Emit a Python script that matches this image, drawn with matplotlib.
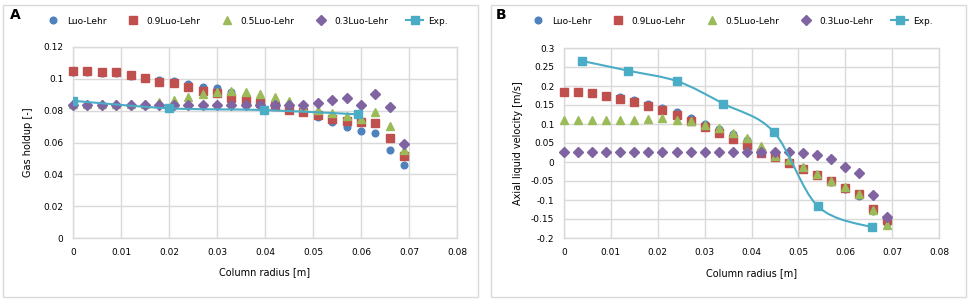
import numpy as np
import matplotlib
matplotlib.use('Agg')
import matplotlib.pyplot as plt
from matplotlib.path import Path
from matplotlib.patches import PathPatch, Rectangle

# radial positions of the simulation points [m]
radius = [0.000, 0.003, 0.006, 0.009, 0.012, 0.015, 0.018, 0.021, 0.024, 0.027, 0.030, 0.033,
          0.036, 0.039, 0.042, 0.045, 0.048, 0.051, 0.054, 0.057, 0.060, 0.063, 0.066, 0.069]

# A: gas holdup [-]
holdup_luo = [0.1045, 0.1045, 0.1035, 0.1035, 0.1020, 0.1005, 0.0990, 0.0985, 0.0967, 0.0950, 0.0940, 0.0920,
              0.0890, 0.0865, 0.0840, 0.0815, 0.0790, 0.0758, 0.0727, 0.0700, 0.0672, 0.0657, 0.0552, 0.0456]
holdup_09 = [0.1051, 0.1050, 0.1045, 0.1040, 0.1022, 0.1007, 0.0982, 0.0972, 0.0946, 0.0925, 0.0909, 0.0881,
             0.0867, 0.0846, 0.0829, 0.0804, 0.0789, 0.0772, 0.0747, 0.0737, 0.0727, 0.0724, 0.0630, 0.0515]
holdup_05 = [0.0845, 0.0845, 0.0845, 0.0845, 0.0845, 0.0845, 0.0855, 0.0870, 0.0884, 0.0905, 0.0917, 0.0925,
             0.0920, 0.0902, 0.0887, 0.0860, 0.0825, 0.0804, 0.0783, 0.0768, 0.0747, 0.0793, 0.0703, 0.0550]
holdup_03 = [0.0838, 0.0838, 0.0838, 0.0838, 0.0838, 0.0838, 0.0838, 0.0838, 0.0838, 0.0838, 0.0838, 0.0838,
             0.0838, 0.0838, 0.0835, 0.0835, 0.0835, 0.0846, 0.0867, 0.0881, 0.0835, 0.0902, 0.0820, 0.0592]
exp_radius_a = [0.0, 0.0199, 0.0398, 0.0593]
exp_holdup = [0.0862, 0.0815, 0.0804, 0.0777]

# B: axial liquid velocity [m/s]
vel_luo = [0.185, 0.185, 0.181, 0.1745, 0.172, 0.162, 0.152, 0.143, 0.131, 0.116, 0.100, 0.088,
           0.075, 0.058, 0.032, 0.016, 0.001, -0.015, -0.033, -0.053, -0.072, -0.090, -0.130, -0.160]
vel_09 = [0.185, 0.185, 0.181, 0.1745, 0.166, 0.157, 0.148, 0.137, 0.124, 0.109, 0.091, 0.0755,
          0.060, 0.046, 0.025, 0.014, -0.002, -0.018, -0.034, -0.051, -0.069, -0.085, -0.124, -0.152]
vel_05 = [0.1095, 0.1095, 0.1095, 0.1095, 0.1095, 0.1095, 0.113, 0.115, 0.1105, 0.108, 0.098, 0.089,
          0.077, 0.063, 0.043, 0.016, 0.005, -0.013, -0.032, -0.050, -0.066, -0.085, -0.127, -0.165]
vel_03 = [0.027, 0.027, 0.027, 0.027, 0.027, 0.027, 0.027, 0.027, 0.027, 0.027, 0.027, 0.027,
          0.027, 0.027, 0.027, 0.0255, 0.027, 0.023, 0.018, 0.008, -0.014, -0.028, -0.088, -0.146]
exp_radius_b = [0.0039, 0.0137, 0.0242, 0.0340, 0.0447, 0.0541, 0.0656]
exp_vel = [0.2658, 0.2403, 0.2123, 0.1534, 0.0798, -0.1158, -0.1719]

labels = ['Luo-Lehr', '0.9Luo-Lehr', '0.5Luo-Lehr', '0.3Luo-Lehr', 'Exp.']
colors = ['#4F81BD', '#C0504D', '#9BBB59', '#8064A2', '#4BACC6']
markers = ['o', 's', '^', 'D', 's']
msizes = [4.8, 5.8, 6.0, 4.6, 5.6]
grid_col = '#D9D9D9'


def smooth_path(x, y):
    # Excel-style smoothed line: cubic Bezier through the points
    p = np.column_stack([x, y])
    n = len(p)
    verts = [p[0]]
    codes = [Path.MOVETO]
    for i in range(n - 1):
        p0 = p[max(i - 1, 0)]
        p1 = p[i]
        p2 = p[i + 1]
        p3 = p[min(i + 2, n - 1)]
        c1 = p1 + (p2 - p0) / 6.0
        c2 = p2 - (p3 - p1) / 6.0
        verts += [c1, c2, p2]
        codes += [Path.CURVE4] * 3
    return Path(verts, codes)


def draw_panel(ax, series, ex, ey):
    for k, ys in enumerate(series):
        ax.plot(radius, ys, linestyle='none', marker=markers[k], ms=msizes[k],
                color=colors[k], mec=colors[k], label=labels[k], zorder=3 + k, clip_on=False)
    ax.add_patch(PathPatch(smooth_path(ex, ey), fill=False, edgecolor=colors[4], lw=1.5, zorder=8))
    ax.plot(ex, ey, linestyle='none', marker='s', ms=msizes[4], color=colors[4], zorder=9)
    ax.plot([], [], '-s', color=colors[4], lw=1.5, ms=msizes[4], label=labels[4])
    ax.set_xlim(0, 0.08)
    ax.set_xticks(np.arange(0, 0.0801, 0.01))
    ax.set_xticklabels(['0', '0.01', '0.02', '0.03', '0.04', '0.05', '0.06', '0.07', '0.08'])
    ax.grid(True, color=grid_col, lw=1)
    ax.set_axisbelow(True)
    for s in ax.spines.values():
        s.set_color(grid_col)
        s.set_linewidth(1)
    ax.tick_params(length=0, labelsize=6.5, labelcolor='black', pad=7)


def add_legend(ax, x0):
    ax.legend(loc='center left', bbox_to_anchor=(x0 / 969, 1 - 21 / 302), bbox_transform=fig.transFigure,
              ncol=5, frameon=False, fontsize=6.5, borderpad=0, handlelength=1.9, handletextpad=0.55,
              columnspacing=2.0, numpoints=1)


fig = plt.figure(figsize=(9.69, 3.02), dpi=100)
fig.patches.append(Rectangle((3 / 969, 5 / 302), 475 / 969, 292 / 302, transform=fig.transFigure,
                             fill=False, edgecolor=grid_col, lw=1))
fig.patches.append(Rectangle((491 / 969, 5 / 302), 475 / 969, 292 / 302, transform=fig.transFigure,
                             fill=False, edgecolor=grid_col, lw=1))

# panel A
ax1 = fig.add_axes([73 / 969, 64 / 302, 384 / 969, 191 / 302])
draw_panel(ax1, [holdup_luo, holdup_09, holdup_05, holdup_03], exp_radius_a, exp_holdup)
ax1.set_ylim(0, 0.12)
ax1.set_yticks([0, 0.02, 0.04, 0.06, 0.08, 0.1, 0.12])
ax1.set_yticklabels(['0', '0.02', '0.04', '0.06', '0.08', '0.1', '0.12'])
ax1.set_xlabel('Column radius [m]', fontsize=7)
ax1.set_ylabel('Gas holdup [-]', fontsize=7)
ax1.xaxis.set_label_coords(0.5, -0.15)
ax1.yaxis.set_label_coords(-0.105, 0.5)
add_legend(ax1, 40)
fig.text(10 / 969, 1 - 15 / 302, 'A', fontsize=10, fontweight='bold', va='center')

# panel B
ax2 = fig.add_axes([564 / 969, 64 / 302, 375 / 969, 190 / 302])
draw_panel(ax2, [vel_luo, vel_09, vel_05, vel_03], exp_radius_b, exp_vel)
ax2.set_ylim(-0.2, 0.3)
yt = np.round(np.arange(-0.2, 0.301, 0.05), 2)
ax2.set_yticks(yt)
ax2.set_yticklabels(['0' if v == 0 else ('%g' % v) for v in yt])
ax2.set_xlabel('Column radius [m]', fontsize=7)
ax2.set_ylabel('Axial liquid velocity [m/s]', fontsize=7)
ax2.xaxis.set_label_coords(0.5, -0.16)
ax2.yaxis.set_label_coords(-0.11, 0.5)
add_legend(ax2, 525)
fig.text(496 / 969, 1 - 15 / 302, 'B', fontsize=10, fontweight='bold', va='center')

fig.savefig('out.png', dpi=100)
